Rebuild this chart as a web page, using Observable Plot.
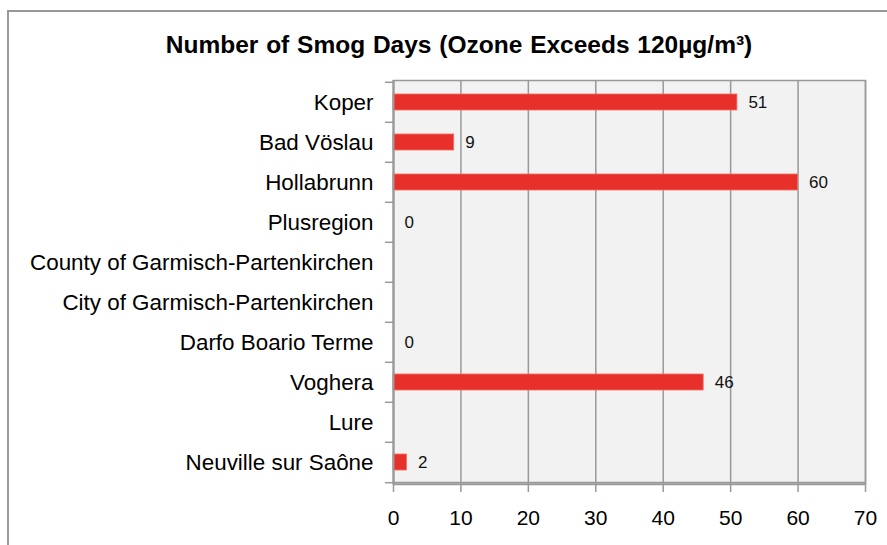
<!DOCTYPE html>
<html>
<head>
<meta charset="utf-8">
<script src="https://cdn.jsdelivr.net/npm/d3@7"></script>
<script src="https://cdn.jsdelivr.net/npm/@observablehq/plot@0.6"></script>
<style>
  html, body { margin: 0; padding: 0; background: #fff; overflow: hidden; width: 887px; height: 545px; }
  #frame { position: absolute; left: 7px; top: 10px; width: 1000px; height: 1000px; border-left: 2px solid #999; border-top: 2px solid #999; box-sizing: border-box; }
  #title { position: absolute; left: 0; width: 918px; top: 32px; text-align: center; font: bold 24.5px "Liberation Sans", Arial, sans-serif; word-spacing: 1px; line-height: 26px; color: #000; }
  #chart { position: absolute; left: 0; top: 60px; }
</style>
</head>
<body>
<div id="frame"></div>
<div id="title">Number of Smog Days (Ozone Exceeds 120µg/m³)</div>
<div id="chart"></div>
<script>
const categories = ["Koper", "Bad Vöslau", "Hollabrunn", "Plusregion", "County of Garmisch-Partenkirchen", "City of Garmisch-Partenkirchen", "Darfo Boario Terme", "Voghera", "Lure", "Neuville sur Saône"];
const smogDays = [51, 9, 60, 0, null, null, 0, 46, null, 2];
const xTicks = [0, 10, 20, 30, 40, 50, 60, 70];

const data = categories.map((c, i) => ({category: c, value: smogDays[i]}));
const withValue = data.filter(d => d.value != null);

const H = 485, MT = 20, MB = 61;
const step = (H - MT - MB) / categories.length;

const chart = Plot.plot({
  width: 887,
  height: H,
  marginTop: MT,
  marginBottom: MB,
  marginLeft: 393,
  marginRight: 22,
  style: {fontFamily: "'Liberation Sans', Arial, sans-serif", background: "transparent", color: "#000"},
  x: {domain: [0, 70]},
  y: {domain: categories, paddingInner: 0.59, paddingOuter: 0.295},
  marks: [
    Plot.frame({fill: "#f2f2f2", stroke: "#999", strokeWidth: 1.5}),
    Plot.ruleX(xTicks, {stroke: "#999", strokeWidth: 1.5}),
    Plot.barX(withValue, {x: "value", y: "category", fill: "#e8302a", stroke: "#f06a60", strokeWidth: 0.8}),
    Plot.text(withValue, {x: "value", y: "category", text: d => String(d.value), textAnchor: "start", dx: 11, fontSize: 17, fill: "#111"}),
    Plot.ruleY(categories, {y: d => d, x1: -1.2, x2: 0, dy: -step / 2, stroke: "#999", strokeWidth: 1.5, clip: false}),
    Plot.ruleY([categories[categories.length - 1]], {y: d => d, x1: -1.2, x2: 0, dy: step / 2, stroke: "#999", strokeWidth: 1.5}),
    Plot.ruleX([0], {stroke: "#999", strokeWidth: 2}),
    Plot.ruleY([categories[categories.length - 1]], {y: d => d, x1: 0, x2: 70, dy: step / 2, stroke: "#999", strokeWidth: 2}),
    Plot.axisX({ticks: xTicks, tickSize: 8, tickPadding: 18, fontSize: 21, stroke: "#999", strokeWidth: 1.5, tickFormat: d => String(d), label: null, strokeOpacity: 1}),
    Plot.axisY({tickSize: 0, tickPadding: 20, fontSize: 22.4, label: null})
  ]
});
document.getElementById("chart").appendChild(chart);
</script>
</body>
</html>
